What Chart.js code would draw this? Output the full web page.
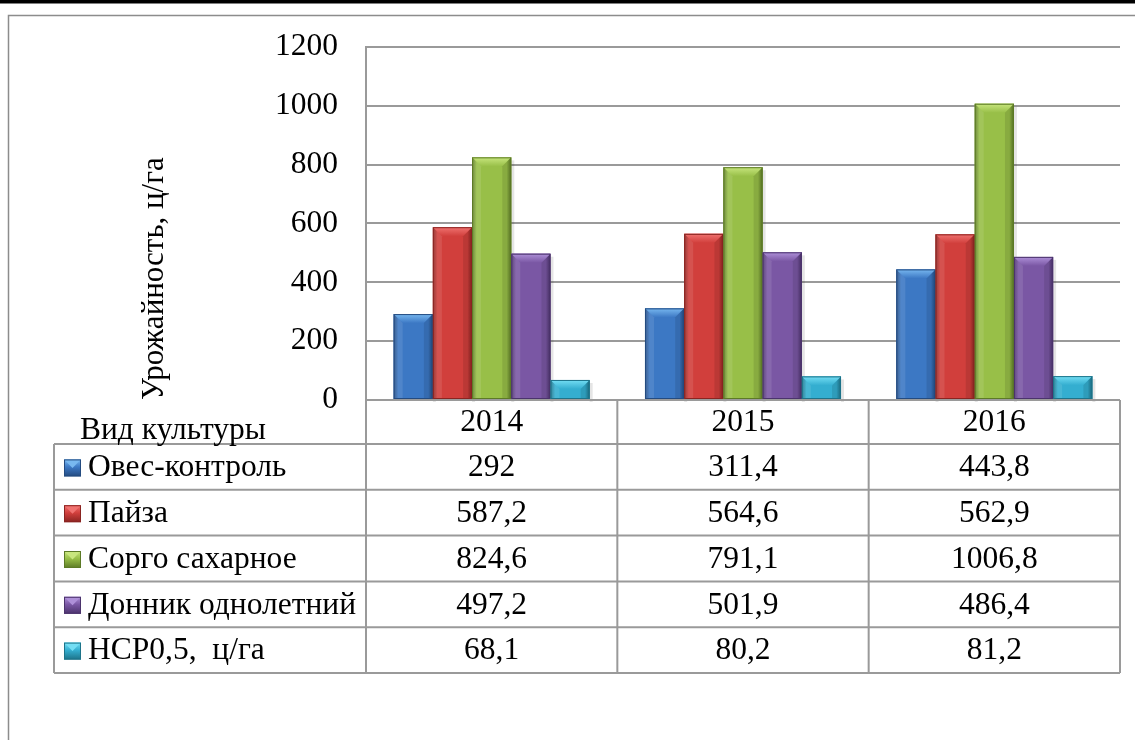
<!DOCTYPE html>
<html lang="ru">
<head>
<meta charset="utf-8">
<title>Урожайность культур, ц/га</title>
<script src="https://cdn.jsdelivr.net/npm/chart.js@4.4.1/dist/chart.umd.min.js"></script>
<style>
  html, body { margin: 0; padding: 0; background: #ffffff; }
  #wrap { width: 1135px; height: 740px; position: relative; }
</style>
</head>
<body>
<div id="wrap"><canvas id="chart" width="1135" height="740"></canvas></div>
<script>
// ---- data ----
const years = ['2014', '2015', '2016'];
const cropNames = ['Овес-контроль', 'Пайза', 'Сорго сахарное', 'Донник однолетний', 'НСР0,5,  ц/га'];
const oats    = [292, 311.4, 443.8];
const paiza   = [587.2, 564.6, 562.9];
const sorghum = [824.6, 791.1, 1006.8];
const clover  = [497.2, 501.9, 486.4];
const lsd05   = [68.1, 80.2, 81.2];
const yTicks  = [0, 200, 400, 600, 800, 1000, 1200];
const axisTitle = 'Урожайность, ц/га';
const tableCorner = 'Вид культуры';

// ---- styling ----
const FONT = '"Liberation Serif", "Times New Roman", serif';
const FS = 31.5;
const FS_TITLE = 31;
const LINE = '#9a9a9a';
const palette = [
  { base: '#3c78c4', dark: '#244b80', light: '#78b8f0' },
  { base: '#d13f3c', dark: '#8a2421', light: '#f07270' },
  { base: '#98bf48', dark: '#5c7a26', light: '#c8e67e' },
  { base: '#7a57a4', dark: '#4b336c', light: '#ae90d8' },
  { base: '#34aed0', dark: '#1d7389', light: '#74def4' }
];
const seriesValues = [oats, paiza, sorghum, clover, lsd05];

const fmt = v => String(v).replace('.', ',');

// Bevelled look for every bar, using the geometry computed by Chart.js
const bevelBars = {
  id: 'bevelBars',
  afterDatasetsDraw(chart) {
    const ctx = chart.ctx;
    chart.data.datasets.forEach((ds, di) => {
      const meta = chart.getDatasetMeta(di);
      const c = palette[di];
      meta.data.forEach(bar => {
        const { x, y, base, width } = bar.getProps(['x', 'y', 'base', 'width'], true);
        const l = x - width / 2, r = x + width / 2, t = y, b = base;
        const h = b - t;
        const bv = Math.min(9, h / 2, width / 2);
        ctx.save();
        // soft shadow to the lower right
        ctx.fillStyle = 'rgba(0,0,0,0.10)';
        ctx.fillRect(r, t + 3, 3, h);
        ctx.fillRect(l + 3, b, width, 2);
        // body: horizontal shading
        const g = ctx.createLinearGradient(l, 0, r, 0);
        g.addColorStop(0, c.dark);
        g.addColorStop(0.12, c.base);
        g.addColorStop(0.5, c.base);
        g.addColorStop(0.88, c.base);
        g.addColorStop(1, c.dark);
        ctx.fillStyle = g;
        ctx.fillRect(l, t, width, h);
        // top bevel
        const tg = ctx.createLinearGradient(0, t, 0, t + bv);
        tg.addColorStop(0, c.light);
        tg.addColorStop(1, c.base);
        ctx.fillStyle = tg;
        ctx.beginPath();
        ctx.moveTo(l, t);
        ctx.lineTo(r, t);
        ctx.lineTo(r - bv, t + bv);
        ctx.lineTo(l + bv, t + bv);
        ctx.closePath();
        ctx.fill();
        // side bevels
        ctx.fillStyle = 'rgba(255,255,255,0.10)';
        ctx.beginPath();
        ctx.moveTo(l, t); ctx.lineTo(l + bv, t + bv); ctx.lineTo(l + bv, b); ctx.lineTo(l, b);
        ctx.closePath(); ctx.fill();
        ctx.fillStyle = 'rgba(0,0,0,0.10)';
        ctx.beginPath();
        ctx.moveTo(r, t); ctx.lineTo(r - bv, t + bv); ctx.lineTo(r - bv, b); ctx.lineTo(r, b);
        ctx.closePath(); ctx.fill();
        // outline
        ctx.strokeStyle = c.dark;
        ctx.lineWidth = 1;
        ctx.strokeRect(l + 0.5, t + 0.5, width - 1, h - 1);
        ctx.restore();
      });
    });
  }
};

// Outer frame of the figure
const frame = {
  id: 'frame',
  beforeDraw(chart) {
    const ctx = chart.ctx;
    ctx.save();
    ctx.fillStyle = '#ffffff';
    ctx.fillRect(0, 0, chart.width, chart.height);
    ctx.fillStyle = '#000000';
    ctx.fillRect(0, 0, chart.width, 3.5);
    ctx.strokeStyle = '#8c8c8c';
    ctx.lineWidth = 1.5;
    ctx.beginPath();
    ctx.moveTo(chart.width, 15.5);
    ctx.lineTo(8.5, 15.5);
    ctx.lineTo(8.5, chart.height);
    ctx.stroke();
    ctx.restore();
  }
};

// Data table under the plot, aligned to the category scale
const dataTable = {
  id: 'dataTable',
  afterDraw(chart) {
    const ctx = chart.ctx;
    const xs = chart.scales.x;
    const area = chart.chartArea;
    const n = years.length;
    const colW = (area.right - area.left) / n;
    const bounds = [];
    for (let i = 0; i <= n; i++) bounds.push(area.left + colW * i);
    const top = area.bottom;
    const headH = 44;
    const rowH = 45.8;
    const tableLeft = 54;
    const rowsTop = top + headH;
    const bottom = rowsTop + rowH * cropNames.length;

    ctx.save();
    ctx.strokeStyle = LINE;
    ctx.lineWidth = 2;
    ctx.beginPath();
    // vertical lines of year columns
    bounds.forEach(bx => { ctx.moveTo(bx, top); ctx.lineTo(bx, bottom); });
    ctx.moveTo(tableLeft, rowsTop); ctx.lineTo(tableLeft, bottom);
    // header bottom and row lines
    ctx.moveTo(area.left, top); ctx.lineTo(area.right, top);
    for (let r = 0; r <= cropNames.length; r++) {
      const yy = rowsTop + rowH * r;
      ctx.moveTo(tableLeft, yy); ctx.lineTo(area.right, yy);
    }
    ctx.stroke();

    ctx.fillStyle = '#000000';
    ctx.font = FS + 'px ' + FONT;
    ctx.textBaseline = 'middle';
    // header
    ctx.textAlign = 'center';
    years.forEach((yr, i) => ctx.fillText(yr, xs.getPixelForValue(i), top + headH / 2 + 1));
    ctx.textAlign = 'left';
    ctx.fillText(tableCorner, 80, top + 31);

    // rows
    cropNames.forEach((name, r) => {
      const cy = rowsTop + rowH * r + rowH / 2 + 1;
      const c = palette[r];
      // legend key
      const k = 17, kx = 64, ky = cy - k / 2;
      const kg = ctx.createLinearGradient(0, ky, 0, ky + k);
      kg.addColorStop(0, c.light);
      kg.addColorStop(0.45, c.base);
      kg.addColorStop(1, c.dark);
      ctx.fillStyle = kg;
      ctx.fillRect(kx, ky, k, k);
      ctx.fillStyle = c.light;
      ctx.beginPath();
      ctx.moveTo(kx, ky); ctx.lineTo(kx + k, ky); ctx.lineTo(kx + k / 2, ky + k / 2);
      ctx.closePath(); ctx.fill();
      ctx.strokeStyle = c.dark; ctx.lineWidth = 1;
      ctx.strokeRect(kx + 0.5, ky + 0.5, k - 1, k - 1);

      ctx.fillStyle = '#000000';
      ctx.textAlign = 'left';
      ctx.fillText(name, 88, cy);
      ctx.textAlign = 'center';
      seriesValues[r].forEach((v, i) => ctx.fillText(fmt(v), xs.getPixelForValue(i), cy));
    });
    ctx.restore();
  }
};

const datasets = cropNames.map((name, i) => ({
  label: name,
  data: seriesValues[i],
  backgroundColor: palette[i].base,
  borderWidth: 0,
  categoryPercentage: 0.78,
  barPercentage: 1.0
}));

function drawChart() {
  new Chart(document.getElementById('chart'), {
    type: 'bar',
    data: { labels: years, datasets },
    options: {
      responsive: false,
      devicePixelRatio: 1,
      animation: false,
      layout: { padding: { left: 0, top: 46, right: 15, bottom: 340 } },
      plugins: {
        legend: { display: false },
        tooltip: { enabled: false },
        title: { display: false }
      },
      scales: {
        x: { display: false },
        y: {
          min: 0,
          max: 1200,
          afterBuildTicks: s => { s.ticks = yTicks.map(v => ({ value: v })); },
          afterFit: s => { s.width = 366; },
          ticks: {
            color: '#000000',
            font: { family: FONT, size: FS },
            padding: 28,
            callback: v => String(v)
          },
          grid: { color: LINE, lineWidth: 2, drawTicks: false },
          border: { color: LINE, width: 2 },
          title: {
            display: true,
            text: axisTitle,
            align: 'start',
            color: '#000000',
            font: { family: FONT, size: FS_TITLE },
            padding: { top: 136, bottom: 0 }
          }
        }
      }
    },
    plugins: [frame, bevelBars, dataTable]
  });
}

// make sure the serif face is ready before the canvas text is drawn
if (document.fonts && document.fonts.load) {
  document.fonts.load(FS + 'px "Liberation Serif"').then(drawChart, drawChart);
} else {
  drawChart();
}
</script>
</body>
</html>
